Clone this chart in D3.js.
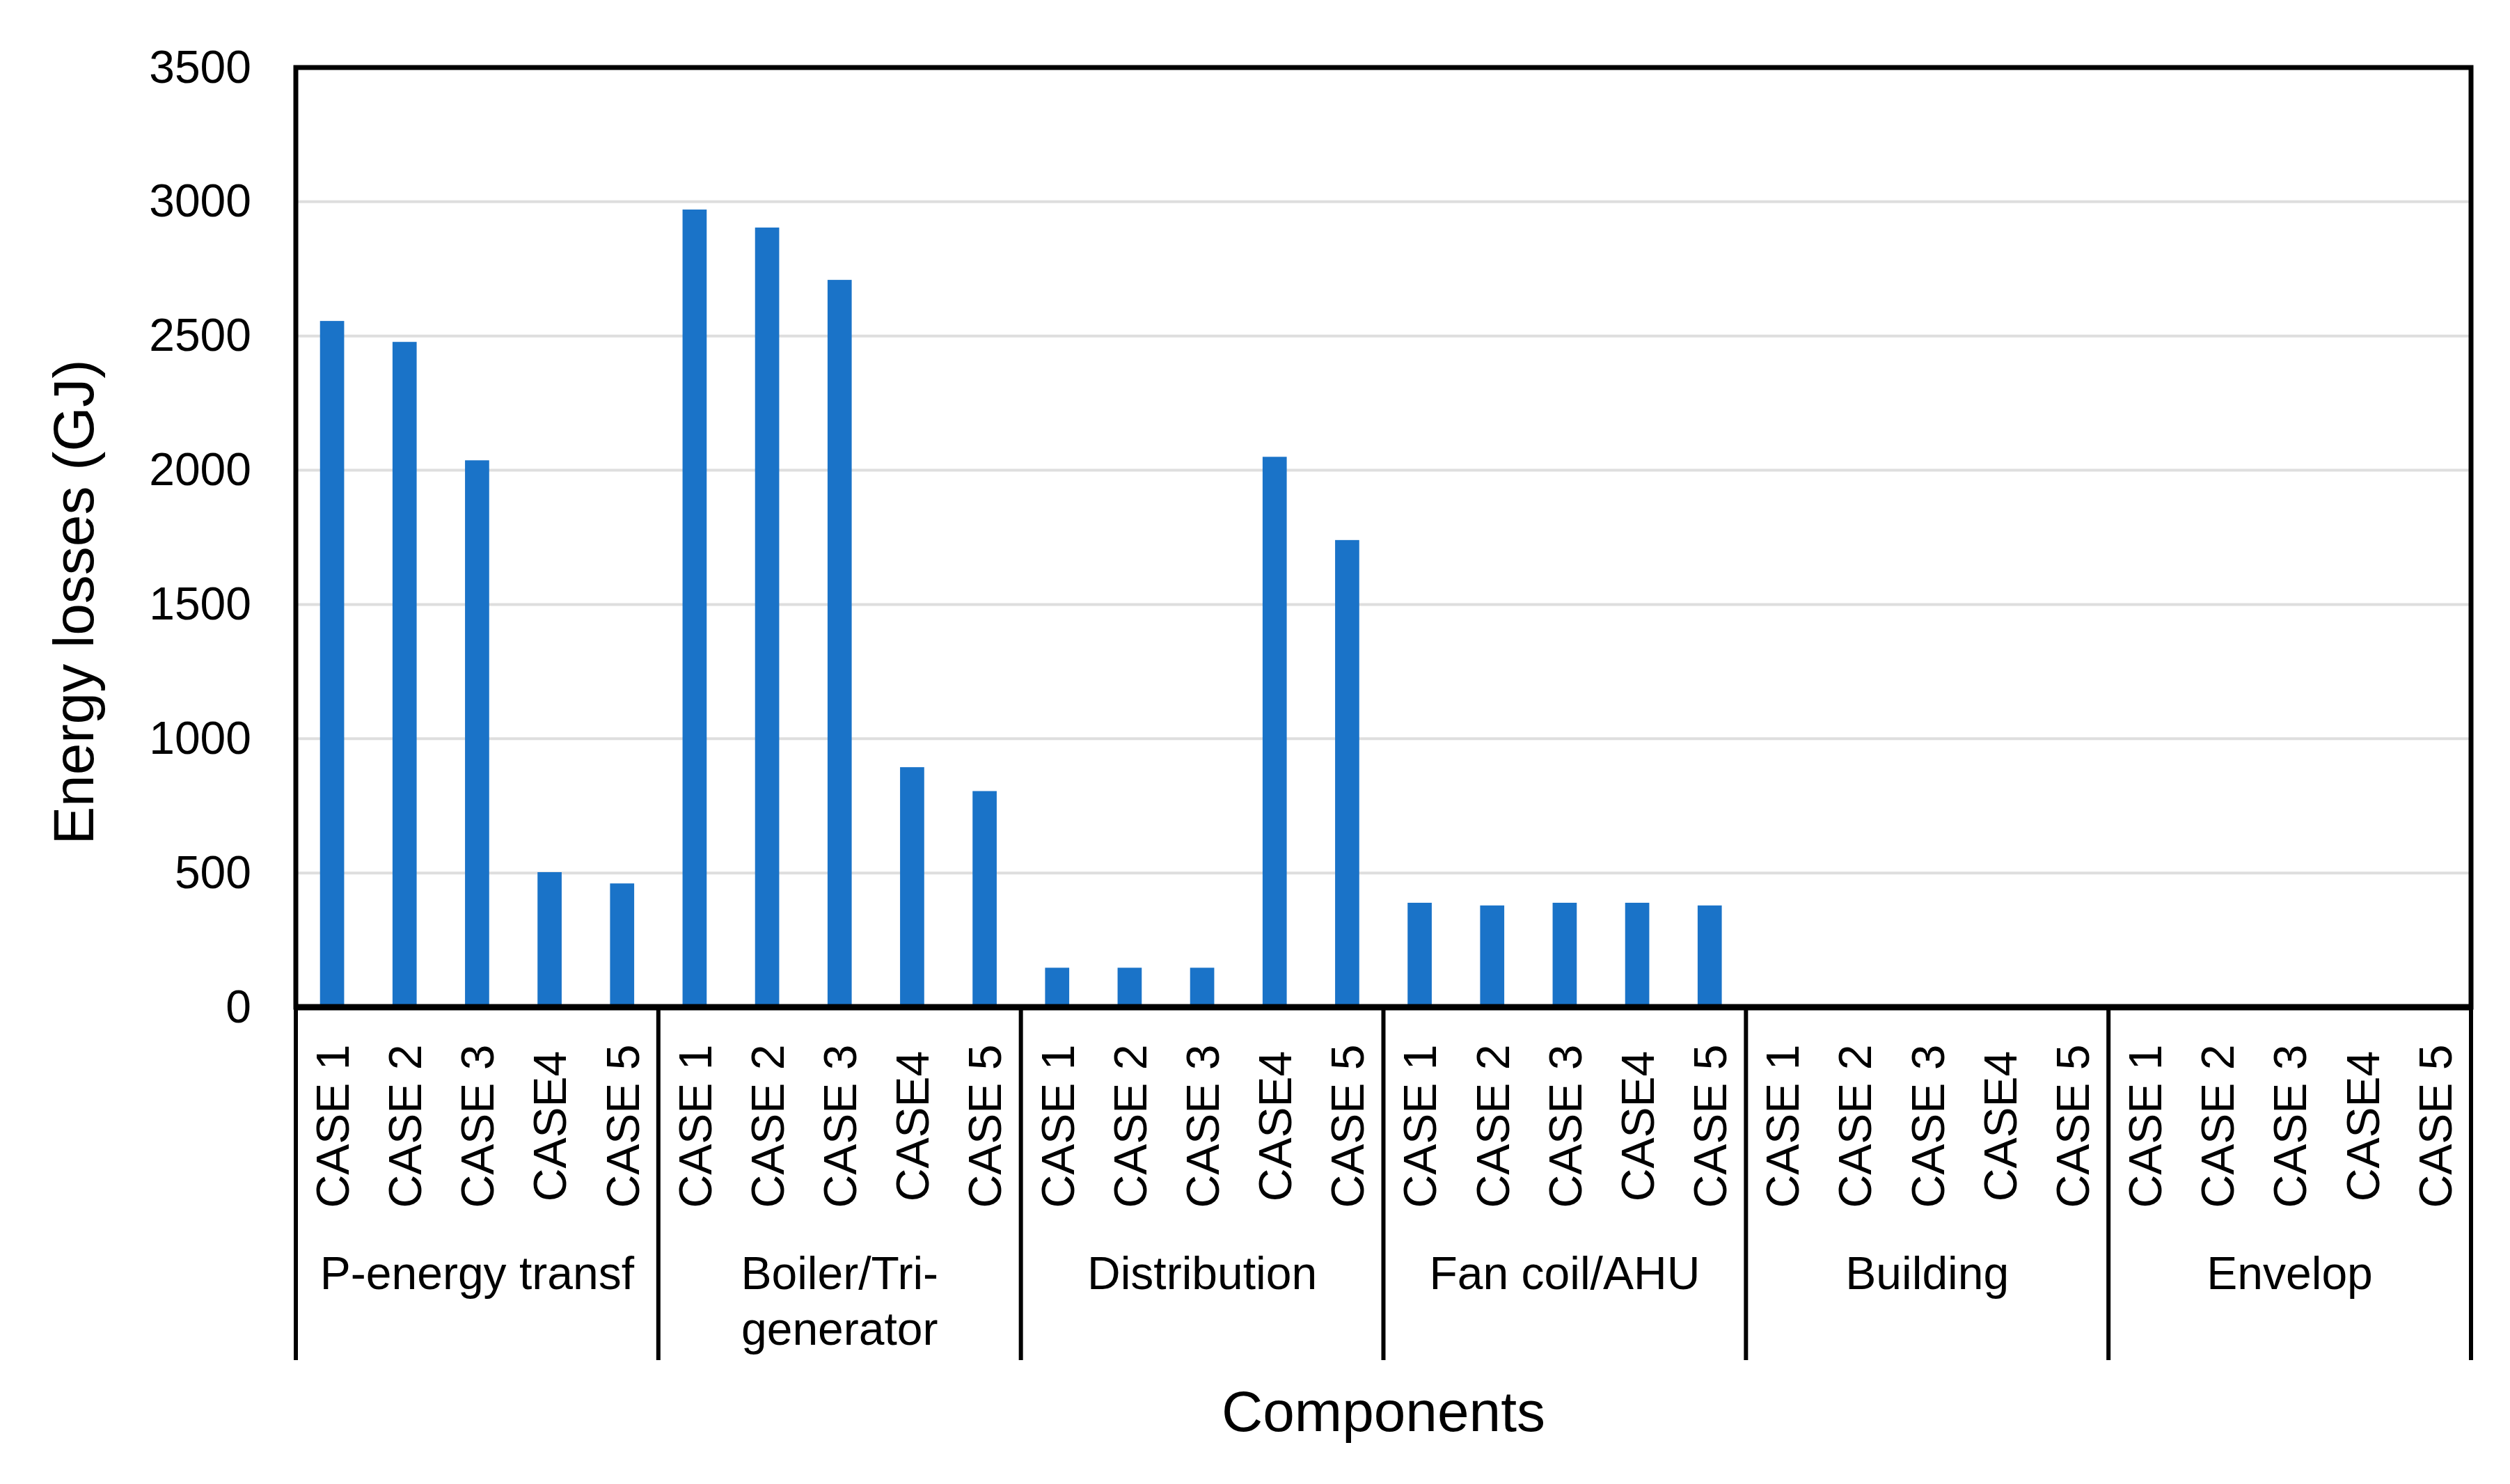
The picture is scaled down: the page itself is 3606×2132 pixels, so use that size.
<!DOCTYPE html>
<html>
<head>
<meta charset="utf-8">
<script src="https://cdn.jsdelivr.net/npm/d3@7"></script>
<style>
  html, body { margin: 0; padding: 0; background: #fff; }
  svg { display: block; }
  text { font-family: "Liberation Sans", Arial, sans-serif; fill: #000; }
</style>
</head>
<body>
<svg id="chart" width="3606" height="2132"></svg>
<script>
// ---- data ----
const groups = ["P-energy transf", "Boiler/Tri-generator", "Distribution", "Fan coil/AHU", "Building", "Envelop"];
const cases = ["CASE 1", "CASE 2", "CASE 3", "CASE4", "CASE 5"];
const pEnergyTransf = [2556, 2478, 2037, 503, 461];
const boilerTrigen  = [2971, 2904, 2709, 894, 805];
const distribution  = [147, 147, 147, 2050, 1740];
const fanCoilAHU    = [389, 379, 389, 389, 379];
const building      = [0, 0, 0, 0, 0];
const envelop       = [0, 0, 0, 0, 0];
const seriesByGroup = [pEnergyTransf, boilerTrigen, distribution, fanCoilAHU, building, envelop];
const yTicks = [0, 500, 1000, 1500, 2000, 2500, 3000, 3500];
const yTitle = "Energy losses (GJ)";
const xTitle = "Components";

// ---- layout ----
const W = 3606, H = 2132;
const L = 425, R = 3550, T = 97, B = 1447;
const catBottom = 1954;

const rows = [];
groups.forEach((g, gi) => cases.forEach((c, ci) => rows.push({ group: g, gi, caseLabel: c, key: gi + "|" + ci, value: seriesByGroup[gi][ci] })));

const svg = d3.select("#chart");

const x = d3.scaleBand().domain(rows.map(d => d.key)).range([L, R]).paddingInner(0.667).paddingOuter(0.3335);
const y = d3.scaleLinear().domain([0, 3500]).range([B, T]);
const gx = d3.scaleBand().domain(groups).range([L, R]).padding(0);

// gridlines
svg.append("g").selectAll("line").data(yTicks.filter(t => t > 0 && t < 3500)).join("line")
  .attr("x1", L).attr("x2", R).attr("y1", d => y(d)).attr("y2", d => y(d))
  .attr("stroke", "#dedede").attr("stroke-width", 4);

// bars
svg.append("g").selectAll("rect").data(rows.filter(d => d.value > 0)).join("rect")
  .attr("x", d => x(d.key)).attr("width", x.bandwidth())
  .attr("y", d => y(d.value)).attr("height", d => y(0) - y(d.value))
  .attr("fill", "#1a73c8");

// y axis tick labels
const yAxis = d3.axisLeft(y).tickValues(yTicks).tickFormat(d3.format("d")).tickSize(0).tickPadding(64);
const yg = svg.append("g").attr("transform", `translate(${L},0)`).call(yAxis);
yg.select(".domain").remove();
yg.selectAll("text").attr("font-size", 66).attr("font-family", "Liberation Sans, Arial, sans-serif").attr("fill", "#000");

// plot frame
svg.append("rect").attr("x", L).attr("y", T).attr("width", R - L).attr("height", B - T)
  .attr("fill", "none").attr("stroke", "#000").attr("stroke-width", 7);
svg.append("line").attr("x1", L - 3).attr("x2", R + 3).attr("y1", B).attr("y2", B)
  .attr("stroke", "#000").attr("stroke-width", 9);

// group separators below axis
const sepX = groups.map(g => gx(g)).concat([R]);
svg.append("g").selectAll("line").data(sepX).join("line")
  .attr("x1", d => d).attr("x2", d => d).attr("y1", B).attr("y2", catBottom)
  .attr("stroke", "#000").attr("stroke-width", 6);

// case labels (rotated)
svg.append("g").selectAll("text").data(rows).join("text")
  .attr("transform", d => `translate(${x(d.key) + x.bandwidth() / 2},1618) rotate(-90)`)
  .attr("text-anchor", "middle").attr("dy", "0.36em")
  .attr("font-size", 66)
  .text(d => d.caseLabel);

// group labels with wrapping
const gl = svg.append("g");
groups.forEach(g => {
  const cx = gx(g) + gx.bandwidth() / 2;
  const t = gl.append("text").attr("x", cx).attr("y", 1852).attr("text-anchor", "middle").attr("font-size", 66).text(g);
  const maxW = gx.bandwidth() * 0.92;
  if (t.node().getComputedTextLength() > maxW) {
    const idx = g.lastIndexOf("-");
    const cut = idx > 0 ? idx + 1 : g.lastIndexOf(" ");
    const lines = [g.slice(0, cut).trim(), g.slice(cut).trim()];
    t.text(null);
    lines.forEach((ln, i) => t.append("tspan").attr("x", cx).attr("y", 1852 + i * 80).text(ln));
  }
});

// axis titles
svg.append("text").attr("x", (L + R) / 2).attr("y", 2056).attr("text-anchor", "middle")
  .attr("font-size", 82).text(xTitle);
svg.append("text").attr("transform", "translate(134,865) rotate(-90)").attr("text-anchor", "middle")
  .attr("font-size", 82).text(yTitle);
</script>
</body>
</html>
